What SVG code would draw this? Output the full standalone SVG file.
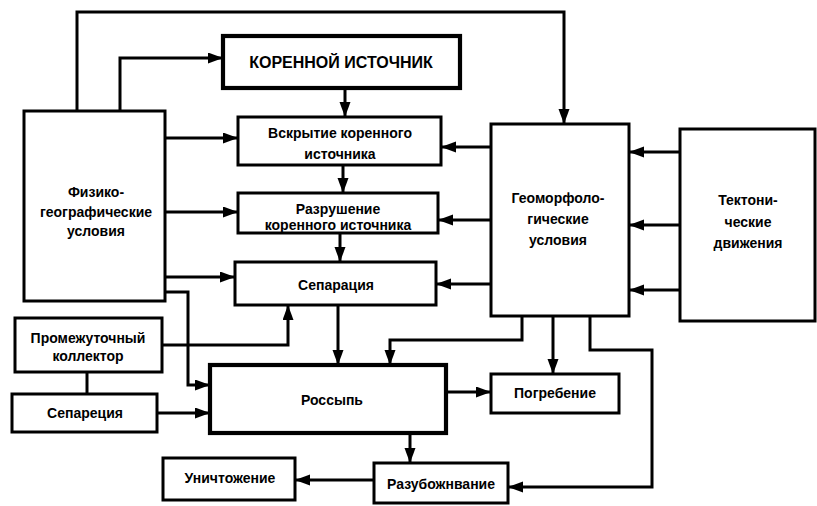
<svg xmlns="http://www.w3.org/2000/svg" width="817" height="506" viewBox="0 0 817 506">
<style>
.box{fill:#fff;stroke:#000;stroke-width:3}
.thick{stroke-width:4.2}
.c{fill:none;stroke:#000;stroke-width:3;stroke-linejoin:miter}
.a{marker-end:url(#ah)}
text{font-family:"Liberation Sans",Arial,sans-serif;font-weight:bold;font-size:14px;text-anchor:middle;dominant-baseline:central;fill:#000}
.big{font-size:16px}
</style>
<defs>
<marker id="ah" markerUnits="userSpaceOnUse" markerWidth="15" markerHeight="12" refX="14" refY="5.5" orient="auto">
<path d="M0,0 L15,5.5 L0,11 z" fill="#000"/>
</marker>
</defs>
<rect width="817" height="506" fill="#fff"/>
<g id="connectors">
<path class="c a" d="M77,111 V12 H564 V123"/>
<path class="c a" d="M120,111 V58 H222"/>
<path class="c a" d="M345,88 V116"/>
<path class="c a" d="M165,138 H237"/>
<path class="c a" d="M343,165 V192"/>
<path class="c a" d="M165,212 H237"/>
<path class="c a" d="M340,233 V261"/>
<path class="c a" d="M163,277 H234"/>
<path class="c a" d="M162,292 H188 V385 H209"/>
<path class="c a" d="M162,345 H288 V306"/>
<path class="c" d="M87,372 V394"/>
<path class="c a" d="M157,413 H209"/>
<path class="c a" d="M338,305 V364"/>
<path class="c a" d="M522,316 V340 H390 V364"/>
<path class="c a" d="M553,316 V373"/>
<path class="c a" d="M446,392 H490"/>
<path class="c a" d="M590,316 V350 H652 V487 H509"/>
<path class="c a" d="M410,433 V462"/>
<path class="c a" d="M374,480 H296"/>
<path class="c a" d="M491,147 H442"/>
<path class="c a" d="M491,220 H439"/>
<path class="c a" d="M491,284 H437"/>
<path class="c a" d="M680,152 H630"/>
<path class="c a" d="M680,225 H630"/>
<path class="c a" d="M680,290 H630"/>
</g>
<g id="n-korennoy">
<rect class="box thick" x="223" y="36" width="237" height="52"/>
<text class="big" x="341" y="62">КОРЕННОЙ ИСТОЧНИК</text>
</g>
<g id="n-vskrytie">
<rect class="box" x="238" y="117" width="203" height="48"/>
<text x="340" y="133">Вскрытие коренного</text>
<text x="340" y="154">источника</text>
</g>
<g id="n-razrushenie">
<rect class="box" x="238" y="193" width="200" height="40"/>
<text x="338" y="209">Разрушение</text>
<text x="338" y="225">коренного источника</text>
</g>
<g id="n-separatsiya">
<rect class="box" x="235" y="262" width="201" height="43"/>
<text x="336" y="285">Сепарация</text>
</g>
<g id="n-fiziko">
<rect class="box" x="24" y="111" width="141" height="190"/>
<text x="96" y="192">Физико-</text>
<text x="96" y="212">географические</text>
<text x="96" y="231">условия</text>
</g>
<g id="n-geomorf">
<rect class="box" x="491" y="124" width="138" height="192"/>
<text x="558" y="198">Геоморфоло-</text>
<text x="558" y="219">гические</text>
<text x="558" y="240">условия</text>
</g>
<g id="n-tekton">
<rect class="box" x="680" y="129" width="135" height="192"/>
<text x="748" y="200">Тектони-</text>
<text x="748" y="222">ческие</text>
<text x="748" y="243">движения</text>
</g>
<g id="n-promezh">
<rect class="box" x="15" y="318" width="147" height="54"/>
<text x="88" y="338">Промежуточный</text>
<text x="88" y="356">коллектор</text>
</g>
<g id="n-separatsiya2">
<rect class="box" x="12" y="394" width="145" height="38"/>
<text x="85" y="413">Сепареция</text>
</g>
<g id="n-rossyp">
<rect class="box thick" x="210" y="365" width="236" height="68"/>
<text x="332" y="400">Россыпь</text>
</g>
<g id="n-pogrebenie">
<rect class="box" x="491" y="374" width="128" height="39"/>
<text x="555" y="393">Погребение</text>
</g>
<g id="n-razubozh">
<rect class="box" x="374" y="463" width="134" height="40"/>
<text x="441" y="484">Разубожнвание</text>
</g>
<g id="n-unichtozh">
<rect class="box" x="163" y="458" width="132" height="42"/>
<text x="230" y="478">Уничтожение</text>
</g>
</svg>
